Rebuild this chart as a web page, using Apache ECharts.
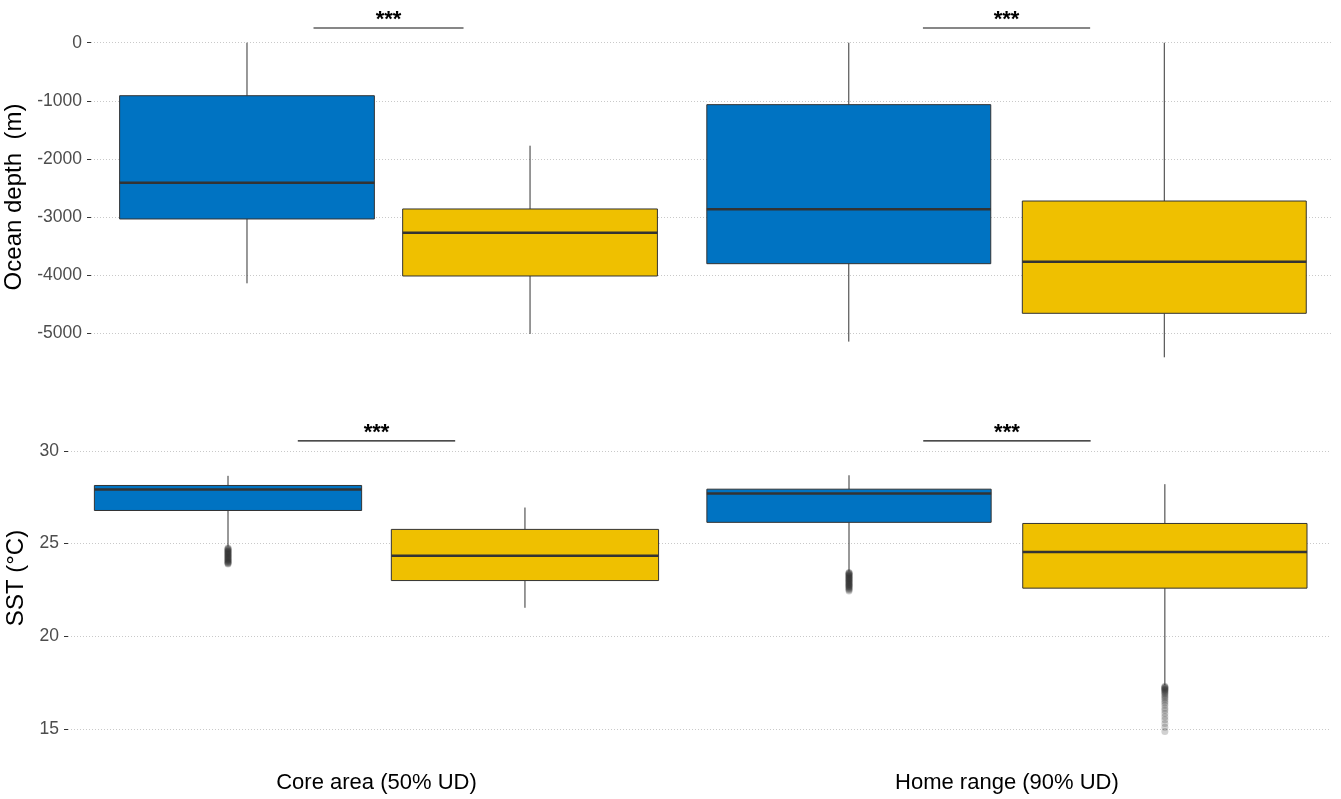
<!DOCTYPE html>
<html>
<head>
<meta charset="utf-8">
<script src="https://cdn.jsdelivr.net/npm/echarts@6/dist/echarts.min.js"></script>
<style>
  html, body { margin: 0; padding: 0; background: #ffffff; }
  #chart { width: 1341px; height: 799px; }
</style>
</head>
<body>
<div id="chart"></div>
<script>
// Category labels along the bottom axis
const categories = ['Core area (50% UD)', 'Home range (90% UD)'];

// Box statistics per category: [lower whisker, Q1, median, Q3, upper whisker]
const depthBlue   = [[-4140, -3033, -2408, -912, 0], [-5143, -3802, -2867, -1066, 0]];
const depthYellow = [[-5011, -4014, -3268, -2861, -1772], [-5413, -4656, -3767, -2724, 0]];
const sstBlue     = [[24.85, 26.79, 27.92, 28.14, 28.66], [23.5, 26.15, 27.71, 27.94, 28.69]];
const sstYellow   = [[21.54, 23.01, 24.35, 25.77, 26.95], [17.37, 22.60, 24.55, 26.09, 28.21]];

// Outlying SST values (°C)
const sstOutBlueCore = [24.77, 24.74, 24.7, 24.68, 24.65, 24.61, 24.58, 24.56, 24.52, 24.49, 24.47, 24.43,
  24.4, 24.37, 24.35, 24.31, 24.28, 24.26, 24.22, 24.19, 24.16, 24.13, 24.1, 24.08, 24.04, 24.01, 23.98,
  23.96, 23.93, 23.9];
const sstOutBlueHome = [23.45, 23.42, 23.4, 23.37, 23.33, 23.31, 23.28, 23.24, 23.21, 23.19, 23.15, 23.12,
  23.09, 23.06, 23.03, 23.0, 22.97, 22.94, 22.91, 22.88, 22.84, 22.81, 22.78, 22.75, 22.72, 22.69, 22.66,
  22.62, 22.58, 22.54, 22.5, 22.45];
const sstOutYellowHome = [17.3, 17.27, 17.24, 17.21, 17.18, 17.15, 17.12, 17.09, 17.05, 17.0, 16.96, 16.9,
  16.84, 16.76, 16.68, 16.6, 16.5, 16.4, 16.28, 16.12, 16.0, 15.84, 15.66, 15.5, 15.3, 15.1, 14.86];

// Significance labels per category
const depthSignif = ['***', '***'];
const sstSignif   = ['***', '***'];

// Axis tick ranges
const depthTicks = { min: -5000, max: 0, step: 1000 };
const sstTicks   = { min: 15, max: 30, step: 5 };

// ---- layout and styling ----
const FONT = '"Liberation Sans", Arial, Helvetica, sans-serif';
const BLUE = '#0073C2';
const YELLOW = '#EFC000';
const EDGE = '#333333';
const BOX_FRAC = 0.9;        // box width as share of its dodge slot
const BRACKET_FRAC = 0.265;  // bracket half-span as share of the dodge slot

const layout = {
  depth: { xMin: 0.5186, xMax: 2.525, slot: [0.458, 0.5105], bracketY: 253 },
  sst:   { xMin: 0.5107, xMax: 2.514, slot: [0.471, 0.501], bracketY: 30.55 }
};

function boxData(stats, slots, side) {
  return stats.map((s, i) => {
    const x = (i + 1) + side * slots[i] / 2;
    return [x, s[0], s[1], s[2], s[3], s[4], slots[i] * BOX_FRAC];
  });
}

function outlierData(values, cat, slots, side) {
  const x = cat + side * slots[cat - 1] / 2;
  return values.map(v => [x, v]);
}

function bracketData(slots, yVal) {
  return slots.map((s, i) => [i + 1, yVal, s * BRACKET_FRAC]);
}

function boxRenderer(fill) {
  return function (params, api) {
    const x = api.value(0);
    const w = api.value(6);
    const lo = api.coord([x, api.value(1)]);
    const q1 = api.coord([x, api.value(2)]);
    const md = api.coord([x, api.value(3)]);
    const q3 = api.coord([x, api.value(4)]);
    const hi = api.coord([x, api.value(5)]);
    const half = api.size([w, 0], [x, 0])[0] / 2;
    const cx = lo[0];
    return {
      type: 'group',
      children: [
        { type: 'line', shape: { x1: cx, y1: hi[1], x2: cx, y2: q3[1] }, style: { stroke: EDGE, lineWidth: 1 } },
        { type: 'line', shape: { x1: cx, y1: q1[1], x2: cx, y2: lo[1] }, style: { stroke: EDGE, lineWidth: 1 } },
        { type: 'rect', shape: { x: cx - half, y: q3[1], width: 2 * half, height: q1[1] - q3[1] },
          style: { fill: fill, stroke: EDGE, lineWidth: 1 } },
        { type: 'line', shape: { x1: cx - half, y1: md[1], x2: cx + half, y2: md[1] },
          style: { stroke: EDGE, lineWidth: 2.5 } }
      ]
    };
  };
}

function bracketRenderer(labels) {
  return function (params, api) {
    const x = api.value(0), y = api.value(1), hw = api.value(2);
    const a = api.coord([x - hw, y]);
    const b = api.coord([x + hw, y]);
    return {
      type: 'group',
      children: [
        { type: 'line', shape: { x1: a[0], y1: a[1], x2: b[0], y2: b[1] }, style: { stroke: '#111111', lineWidth: 1.2 } },
        { type: 'text', x: (a[0] + b[0]) / 2, y: a[1] - 8,
          style: { text: labels[params.dataIndex], align: 'center', verticalAlign: 'middle',
                   fontSize: 22, fontWeight: 'bold', fill: '#000000', fontFamily: FONT } }
      ]
    };
  };
}

function yAxisCfg(grid, ticks, name, gap, pad) {
  return {
    gridIndex: grid, type: 'value', min: ticks.min, max: ticks.max, interval: ticks.step,
    name: name, nameLocation: 'middle', nameGap: gap, nameRotate: 90,
    nameTextStyle: { fontSize: 24, color: '#000000', fontFamily: FONT, padding: pad },
    axisLine: { show: false },
    axisTick: { show: true, length: 4, lineStyle: { color: EDGE, width: 1 } },
    axisLabel: { fontSize: 17.5, color: '#4d4d4d', margin: 9, fontFamily: FONT, formatter: v => String(v) },
    splitLine: { show: true, lineStyle: { color: '#c9c9c9', width: 1, type: [1, 2] } }
  };
}

const chart = echarts.init(document.getElementById('chart'), null, { renderer: 'canvas' });

const option = {
  animation: false,
  backgroundColor: '#ffffff',
  grid: [
    { left: 91, right: 10, top: 42.7, height: 290.6, outerBoundsMode: 'none' },
    { left: 68, right: 10, top: 451, height: 278, outerBoundsMode: 'none' }
  ],
  xAxis: [
    { gridIndex: 0, type: 'value', min: layout.depth.xMin, max: layout.depth.xMax,
      axisLine: { show: false }, axisTick: { show: false }, axisLabel: { show: false }, splitLine: { show: false } },
    { gridIndex: 1, type: 'value', min: layout.sst.xMin, max: layout.sst.xMax,
      axisLine: { show: false }, axisTick: { show: false }, splitLine: { show: false },
      axisLabel: { customValues: [1, 2], formatter: v => categories[Math.round(v) - 1] || '',
                   fontSize: 22, color: '#000000', margin: 43, fontFamily: FONT } }
  ],
  yAxis: [
    yAxisCfg(0, depthTicks, 'Ocean depth  (m)', 57, [0, 18, 0, 0]),
    yAxisCfg(1, sstTicks, 'SST (°C)', 34, [0, 0, 0, 24])
  ],
  series: [
    { type: 'custom', xAxisIndex: 0, yAxisIndex: 0, clip: false, silent: true,
      renderItem: boxRenderer(BLUE), data: boxData(depthBlue, layout.depth.slot, -1) },
    { type: 'custom', xAxisIndex: 0, yAxisIndex: 0, clip: false, silent: true,
      renderItem: boxRenderer(YELLOW), data: boxData(depthYellow, layout.depth.slot, 1) },
    { type: 'custom', xAxisIndex: 0, yAxisIndex: 0, clip: false, silent: true,
      renderItem: bracketRenderer(depthSignif), data: bracketData(layout.depth.slot, layout.depth.bracketY) },

    { type: 'custom', xAxisIndex: 1, yAxisIndex: 1, clip: false, silent: true,
      renderItem: boxRenderer(BLUE), data: boxData(sstBlue, layout.sst.slot, -1) },
    { type: 'custom', xAxisIndex: 1, yAxisIndex: 1, clip: false, silent: true,
      renderItem: boxRenderer(YELLOW), data: boxData(sstYellow, layout.sst.slot, 1) },
    { type: 'custom', xAxisIndex: 1, yAxisIndex: 1, clip: false, silent: true,
      renderItem: bracketRenderer(sstSignif), data: bracketData(layout.sst.slot, layout.sst.bracketY) },

    { type: 'scatter', xAxisIndex: 1, yAxisIndex: 1, clip: false, silent: true, symbol: 'circle', symbolSize: 7,
      itemStyle: { color: 'rgba(51,51,51,0.28)' },
      data: outlierData(sstOutBlueCore, 1, layout.sst.slot, -1)
        .concat(outlierData(sstOutBlueHome, 2, layout.sst.slot, -1))
        .concat(outlierData(sstOutYellowHome, 2, layout.sst.slot, 1)) }
  ]
};

chart.setOption(option);
</script>
</body>
</html>
